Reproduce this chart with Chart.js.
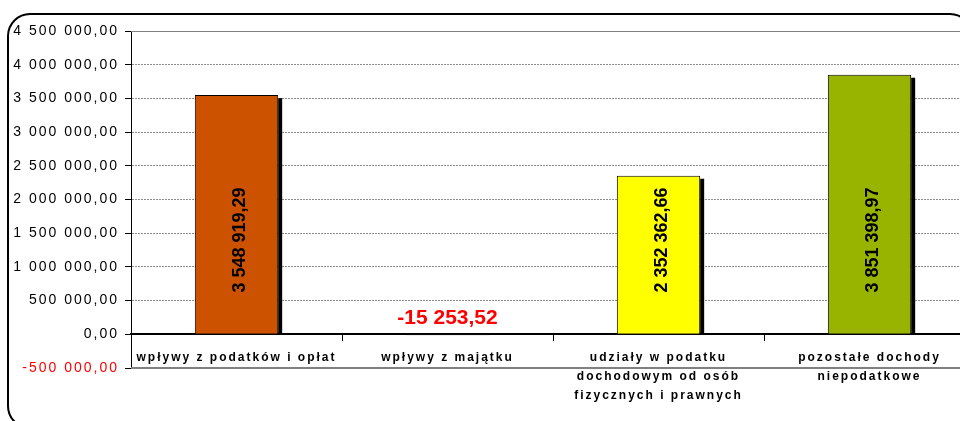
<!DOCTYPE html>
<html>
<head>
<meta charset="utf-8">
<script src="https://cdn.jsdelivr.net/npm/chart.js@4/dist/chart.umd.min.js"></script>
<style>
html,body{margin:0;padding:0;background:#fff;overflow:hidden;}
canvas{display:block;}
</style>
</head>
<body>
<canvas id="c" width="980" height="421"></canvas>
<script>
const categories = [
  "wpływy z podatków i opłat",
  "wpływy z majątku",
  ["udziały w podatku", "dochodowym od osób", "fizycznych i prawnych"],
  ["pozostałe dochody", "niepodatkowe"]
];
const values = [3548919.29, -15253.52, 2352362.66, 3851398.97];
const barColors = ["#CC5200", "#3366CC", "#FFFF00", "#99B400"];
const yMin = -500000, yMax = 4500000, yStep = 500000;

function fmt(v) {
  const neg = v < 0;
  const parts = Math.abs(v).toFixed(2).split('.');
  const i = parts[0].replace(/\B(?=(\d{3})+(?!\d))/g, ' ');
  return (neg ? '-' : '') + i + ',' + parts[1];
}

const spacingPlugin = {
  id: 'spacing',
  beforeUpdate(chart) { chart.ctx.letterSpacing = '2px'; },
  beforeDraw(chart) { chart.ctx.letterSpacing = '2px'; }
};

const framePlugin = {
  id: 'frame',
  beforeDatasetsDraw(chart) {
    const ctx = chart.ctx, a = chart.chartArea;
    ctx.save();
    ctx.strokeStyle = '#808080';
    ctx.lineWidth = 1;
    ctx.beginPath(); ctx.moveTo(a.left, a.top + 0.5); ctx.lineTo(a.right, a.top + 0.5); ctx.stroke();
    ctx.lineWidth = 2;
    ctx.beginPath(); ctx.moveTo(a.left, a.bottom); ctx.lineTo(a.right, a.bottom); ctx.stroke();
    // bar shadows
    const meta = chart.getDatasetMeta(0);
    const base = chart.scales.y.getPixelForValue(0);
    ctx.fillStyle = '#000';
    meta.data.forEach((bar, i) => {
      if (values[i] > 0) {
        const right = bar.x + bar.width / 2;
        ctx.fillRect(right, bar.y + 3, 4, base - bar.y - 3);
      }
    });
    ctx.restore();
  },
  afterDatasetsDraw(chart) {
    const ctx = chart.ctx;
    const meta = chart.getDatasetMeta(0);
    const ys = chart.scales.y;
    ctx.save();
    ctx.letterSpacing = '0px';
    meta.data.forEach((bar, i) => {
      const txt = fmt(values[i]);
      if (values[i] > 0) {
        ctx.save();
        ctx.translate(bar.x + 4, ys.getPixelForValue(1400000));
        ctx.rotate(-Math.PI / 2);
        ctx.font = 'bold 18px "Liberation Sans", Arial, sans-serif';
        ctx.fillStyle = '#000';
        ctx.textAlign = 'center';
        ctx.textBaseline = 'middle';
        ctx.fillText(txt, 0, 0);
        ctx.restore();
      } else {
        ctx.font = 'bold 21px "Liberation Sans", Arial, sans-serif';
        ctx.fillStyle = '#FF0000';
        ctx.textAlign = 'center';
        ctx.textBaseline = 'middle';
        ctx.fillText(txt, bar.x, ys.getPixelForValue(0) - 16);
      }
    });
    ctx.restore();
  },
  afterDraw(chart) {
    const ctx = chart.ctx;
    ctx.save();
    ctx.strokeStyle = '#000';
    ctx.lineWidth = 2;
    ctx.beginPath();
    ctx.roundRect(8, 14, 964, 414, 22);
    ctx.stroke();
    ctx.restore();
  }
};

new Chart(document.getElementById('c'), {
  type: 'bar',
  data: {
    labels: categories,
    datasets: [{
      data: values,
      backgroundColor: barColors,
      borderColor: '#000',
      borderWidth: 1,
      barPercentage: 0.395,
      categoryPercentage: 1.0
    }]
  },
  plugins: [spacingPlugin, framePlugin],
  options: {
    responsive: false,
    animation: false,
    devicePixelRatio: 1,
    layout: { padding: { left: 0, top: 31, right: 5, bottom: 53 } },
    plugins: { legend: { display: false }, tooltip: { enabled: false } },
    scales: {
      x: {
        position: { y: 0 },
        z: 1,
        offset: true,
        grid: { offset: true, drawOnChartArea: false, drawTicks: true, tickLength: 6, color: '#000', lineWidth: 1 },
        border: { display: true, color: '#000', width: 2 },
        ticks: {
          color: '#000',
          padding: 8,
          maxRotation: 0,
          autoSkip: false,
          font: { family: '"Liberation Sans", Arial, sans-serif', size: 12, weight: 'bold', lineHeight: 1.58 }
        }
      },
      y: {
        min: yMin,
        max: yMax,
        afterFit(scale) { scale.width = 131; },
        grid: {
          color: '#8c8c8c',
          lineWidth: 1,
          tickColor: '#000',
          tickLength: 6,
          tickBorderDash: [],
          drawTicks: true
        },
        border: { display: true, color: '#000', width: 1, dash: [2, 1] },
        ticks: {
          stepSize: yStep,
          padding: 6,
          color: (c) => (c.tick && c.tick.value < 0 ? '#FF0000' : '#000'),
          font: { family: '"Liberation Sans", Arial, sans-serif', size: 14 },
          callback: (v) => fmt(v)
        }
      }
    }
  }
});
</script>
</body>
</html>
